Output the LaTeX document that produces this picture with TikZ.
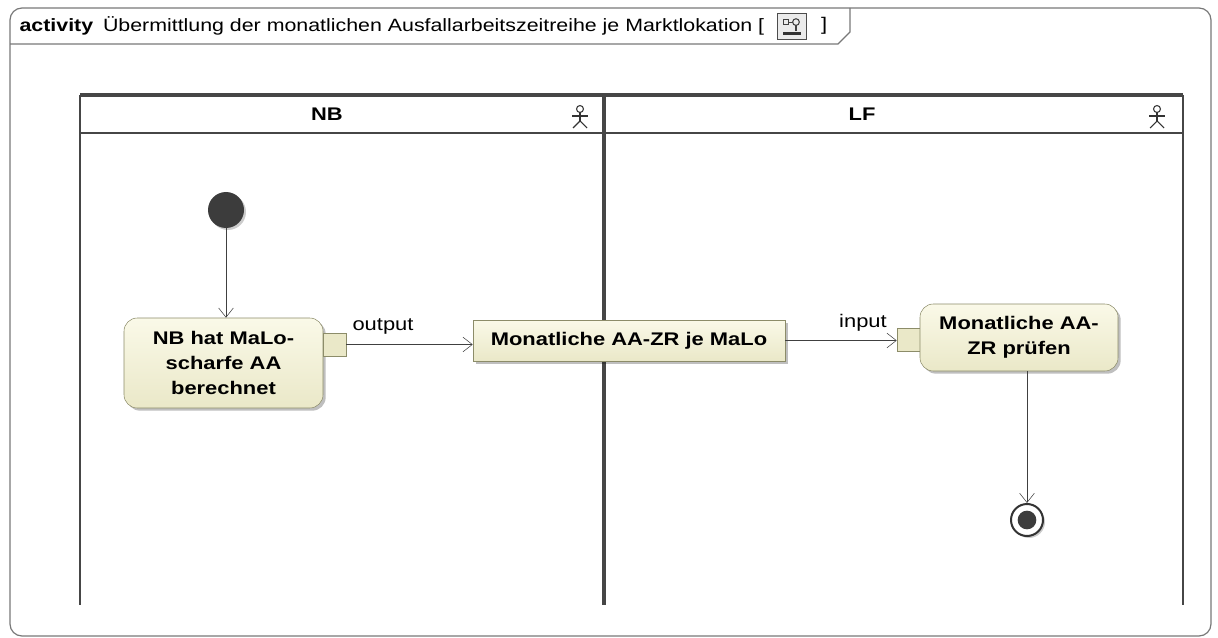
\documentclass[tikz,border=0pt]{standalone}
\usepackage{fontspec}
\setmainfont{Liberation Sans}[FakeStretch=1.2]
\usetikzlibrary{positioning,arrows.meta,shadows}

\definecolor{actfill}{RGB}{234,232,200}
\definecolor{acttop}{RGB}{250,249,232}
\definecolor{actline}{RGB}{140,140,105}
\definecolor{laneline}{RGB}{70,70,70}
\definecolor{frameline}{RGB}{120,120,120}
\definecolor{dotfill}{RGB}{60,60,60}

\newcommand{\dsize}{\fontsize{13.7pt}{18.75pt}\selectfont}

\tikzset{
  actionnode/.style={draw=actline, top color=acttop, bottom color=actfill, rounded corners=10pt,
    align=center, font=\dsize\bfseries, inner sep=0pt,
    drop shadow={shadow xshift=2pt, shadow yshift=-2pt, opacity=0.25, fill=black}},
  objnode/.style={draw=actline, top color=acttop, bottom color=actfill, font=\dsize\bfseries,
    inner sep=0pt, minimum width=234pt, minimum height=30.75pt,
    drop shadow={shadow xshift=2pt, shadow yshift=-2pt, opacity=0.25, fill=black}},
  pinbox/.style={draw=actline, fill=actfill, minimum size=17.25pt, inner sep=0pt},
  flow/.style={draw=black!75, -{Straight Barb[length=7pt,width=11pt]}},
  lanehead/.style={font=\dsize\bfseries},
  lbl/.style={font=\dsize, inner sep=1pt},
}

\begin{document}
\begin{tikzpicture}[x=0.75pt, y=-0.75pt]
  \useasboundingbox (0,0) rectangle (1218,638);

  % frame
  \draw[frameline, line width=0.9pt, rounded corners=9pt] (10,8) rectangle (1211,636);
  \draw[frameline, line width=0.9pt] (10,44) -- (838,44) -- (850,32) -- (850,8);
  \node[lbl, anchor=west, font=\fontsize{13.35pt}{16pt}\selectfont] (title) at (18,26)
    {\textbf{activity}\hspace{0.55em}Übermittlung der monatlichen Ausfallarbeitszeitreihe je Marktlokation [};
  \node[draw=black!70, fill=black!8, minimum width=21.75pt, minimum height=19.5pt, inner sep=0pt,
    right=8pt of title] (icon) {};
  \node[lbl, right=10pt of icon] (rbr) {]};
  \draw[black!75, line width=0.8pt] ([xshift=-6pt,yshift=-5pt]icon.north) rectangle ([xshift=-2pt,yshift=-9pt]icon.north);
  \draw[black!75, line width=0.8pt] ([xshift=-2pt,yshift=-7pt]icon.north) -- ([xshift=1pt,yshift=-7pt]icon.north);
  \draw[black!75, line width=0.8pt] ([xshift=3.5pt,yshift=-7pt]icon.north) circle (2.5pt);
  \draw[black!75, line width=0.8pt] ([xshift=3.5pt,yshift=-9.5pt]icon.north) -- ([xshift=3.5pt,yshift=-14pt]icon.north);
  \draw[black!80, line width=2pt] ([xshift=-6pt,yshift=4.5pt]icon.south) -- ([xshift=7pt,yshift=4.5pt]icon.south);

  % swimlanes
  \draw[laneline, line width=2.4pt] (80,95) -- (1183,95);
  \draw[laneline, line width=2pt] (80,133) -- (1183,133);
  \draw[laneline, line width=2pt] (80,95) -- (80,605);
  \draw[laneline, line width=2.4pt] (604,95) -- (604,605);
  \draw[laneline, line width=2pt] (1183,95) -- (1183,605);
  \node[lanehead] (nbhead) at (327,114) {NB};
  \node[lanehead] (lfhead) at (862,114) {LF};

  % actors
  \begin{scope}[shift={(580,117)}, black!80, line width=0.8pt]
    \draw (0,-8) circle (2.6pt);
    \draw (0,-4.5) -- (0,4);
    \draw (-8,-1) -- (8,-1);
    \draw (-7,11) -- (0,4) -- (7,11);
  \end{scope}
  \begin{scope}[shift={(1157,117)}, black!80, line width=0.8pt]
    \draw (0,-8) circle (2.6pt);
    \draw (0,-4.5) -- (0,4);
    \draw (-8,-1) -- (8,-1);
    \draw (-7,11) -- (0,4) -- (7,11);
  \end{scope}

  % nodes
  \node[circle, fill=dotfill, minimum size=27pt, inner sep=0pt,
    drop shadow={shadow xshift=1.5pt, shadow yshift=-1.5pt, opacity=0.2, fill=black}] (init) at (226,210) {};
  \node[actionnode, minimum width=149.25pt, minimum height=67.5pt] (berechnen) at (223.5,363)
    {NB hat MaLo-\\scharfe AA\\berechnet};
  \node[pinbox] (outpin) at (334.5,344.5) {};
  \node[objnode] (zeitreihe) at (629,340.5) {Monatliche AA-ZR je MaLo};
  \node[pinbox] (inpin) at (908.5,339.5) {};
  \node[actionnode, minimum width=148.5pt, minimum height=50.25pt] (pruefen) at (1019,337.5)
    {Monatliche AA-\\ZR prüfen};
  \node[circle, draw=black!80, line width=1.5pt, fill=white, minimum size=24pt, inner sep=0pt,
    drop shadow={shadow xshift=1.5pt, shadow yshift=-1.5pt, opacity=0.2, fill=black}] (final) at (1027,520) {};
  \node[circle, fill=dotfill, minimum size=14pt, inner sep=0pt] (finaldot) at (final) {};

  % flows
  \draw[flow] (init) -- (init |- berechnen.north);
  \draw[flow] (outpin.east) -- (outpin.east -| zeitreihe.west);
  \draw[flow] (zeitreihe.east) -- (zeitreihe.east -| inpin.west);
  \draw[flow] (final |- pruefen.south) -- (final);
  \node[lbl] (outlbl) at (383,326) {output};
  \node[lbl] (inlbl) at (863,323) {input};
\end{tikzpicture}
\end{document}
